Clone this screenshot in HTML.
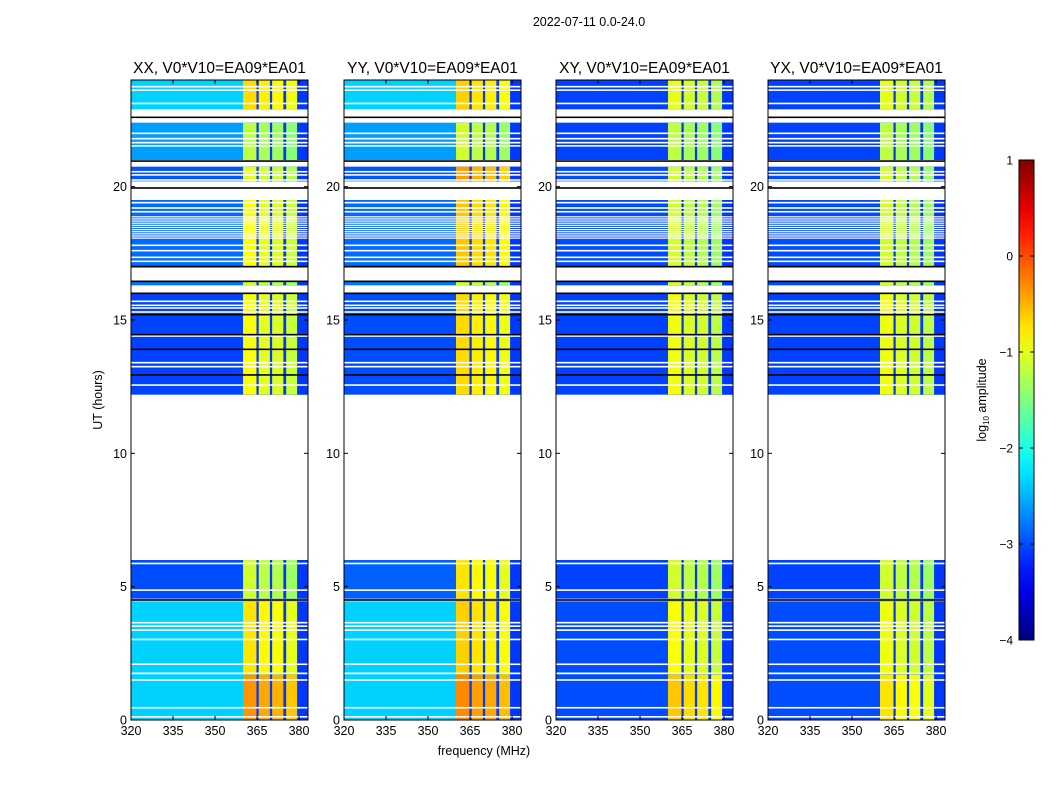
<!DOCTYPE html>
<html><head><meta charset="utf-8"><style>
body{margin:0;background:#fff;}
svg{display:block;font-family:"Liberation Sans",sans-serif;}
</style></head><body>
<svg id="chart" width="1050" height="800">
<rect width="1050" height="800" fill="#fff"/>
<text x="589" y="26" font-size="12.5" text-anchor="middle">2022-07-11 0.0-24.0</text>
</svg>
<script>
// ---- data ----
const panelTitles = ["XX, V0*V10=EA09*EA01","YY, V0*V10=EA09*EA01","XY, V0*V10=EA09*EA01","YX, V0*V10=EA09*EA01"];
const blockStart = [0, 1.7, 4.55, 12.2, 16.3, 17.0, 20.2, 21.0, 22.9];
const blockEnd   = [1.7, 4.45, 6.0, 16.0, 16.45, 19.5, 20.75, 22.4, 24.0];
const bgXX = [-2.35,-2.35,-3.0,-3.05,-2.8,-2.85,-2.95,-2.6,-2.35];
const bgYY = [-2.35,-2.35,-2.9,-3.0,-2.8,-2.85,-2.95,-2.6,-2.35];
const bgXY = [-3.0,-3.0,-3.05,-3.05,-3.0,-3.0,-3.0,-3.05,-3.05];
const bgYX = [-3.0,-3.0,-3.05,-3.05,-3.0,-3.0,-3.0,-3.05,-3.05];
const rfiXX = [-0.45,-0.85,-1.2,-1.0,-1.2,-1.0,-1.1,-1.3,-0.8];
const rfiYY = [-0.4,-0.75,-0.85,-0.8,-1.2,-0.7,-0.5,-1.2,-0.75];
const rfiXY = [-0.7,-1.0,-1.2,-1.05,-1.2,-1.2,-1.2,-1.3,-1.1];
const rfiYX = [-0.85,-1.05,-1.2,-1.05,-1.2,-1.2,-1.2,-1.3,-1.1];
const chanLo = [360.0, 365.6, 370.4, 375.4];
const chanHi = [364.8, 369.6, 374.4, 379.3];
const chanGain = [0.1, 0.0, -0.05, -0.15];
const whiteLines = [0.12,0.46,1.5,1.75,2.09,3.02,3.37,3.52,3.65,4.87,5.87,12.56,13.25,13.4,14.4,15.3,15.45,15.55,15.7,17.2,17.35,17.6,17.8,19.06,19.2,19.4,20.12,20.25,20.44,20.56,21.53,21.65,21.8,22.0,23.12,23.62,23.75];
const blackLines = [4.5,12.94,13.9,14.45,15.2,16.0,16.45,17.0,19.95,20.96,22.6];
const hatchStart = 18.07, hatchEnd = 18.9;
const xTicks = [320,335,350,365,380];
const yTicks = [0,5,10,15,20];
const cbTicks = [1,0,-1,-2,-3,-4];
const bgs = [bgXX,bgYY,bgXY,bgYX], rfis = [rfiXX,rfiYY,rfiXY,rfiYX];

// ---- helpers ----
const NS = "http://www.w3.org/2000/svg";
const svg = document.getElementById("chart");
function mk(tag, attrs, parent){const e=document.createElementNS(NS,tag);for(const k in attrs)e.setAttribute(k,attrs[k]);(parent||svg).appendChild(e);return e;}
function jet(v){let t=Math.max(0,Math.min(1,(v+4)/5));
  const f=(x)=>Math.max(0,Math.min(1,x));
  const r=f(1.5-Math.abs(4*t-3)), g=f(1.5-Math.abs(4*t-2)), b=f(1.5-Math.abs(4*t-1));
  return `rgb(${Math.round(r*255)},${Math.round(g*255)},${Math.round(b*255)})`;}
const panelX = [131,344,556,768], PW = 177, PT = 80, PB = 720;
const F0 = 320, F1 = 383.2;
const yS = h => PB - h*(PB-PT)/24;

panelTitles.forEach((title, p) => {
  const x0 = panelX[p];
  const xS = f => x0 + (f-F0)*PW/(F1-F0);
  const g = mk("g", {});
  
  
  blockStart.forEach((t0, i) => {
    const t1 = blockEnd[i], y1 = yS(t1), h = yS(t0)-y1;
    const bg = mk("rect", {x:x0, y:y1, width:PW, height:h, fill:jet(bgs[p][i])}, g);
    
    
    const sep = mk("rect", {x:xS(chanLo[0]), y:y1, width:x0+PW-xS(chanLo[0]), height:h, fill:jet(-3.1)}, g);
    
    
    chanLo.forEach((lo, c) => {
      const r = mk("rect", {x:xS(lo), y:y1, width:xS(chanHi[c])-xS(lo), height:h, fill:jet(rfis[p][i]+chanGain[c])}, g);
      
      
    });
  });
  for (let h = hatchStart; h < hatchEnd; h += 0.08) {
    const r = mk("rect", {x:x0, y:yS(h)-0.6, width:PW, height:1.2, fill:"#fff"}, g);
    
    
  }
  whiteLines.forEach(h => {
    const r = mk("rect", {x:x0, y:yS(h)-0.8, width:PW, height:1.6, fill:"#fff"}, g);
    
    
  });
  blackLines.forEach(h => {
    const r = mk("rect", {x:x0, y:yS(h)-0.8, width:PW, height:1.6, fill:"#000"}, g);
    
    
  });
  const fr = mk("rect", {x:x0, y:PT, width:PW, height:PB-PT, fill:"none", stroke:"#000", "stroke-width":1}, g);
  
  
  xTicks.forEach(f => {
    const x = xS(f);
    mk("line", {x1:x, x2:x, y1:PB, y2:PB-4, stroke:"#000"}, g);
    mk("line", {x1:x, x2:x, y1:PT, y2:PT+4, stroke:"#000"}, g);
    const t = mk("text", {x:x, y:PB+15, "font-size":12.5, "text-anchor":"middle"}, g);
    t.textContent = f;
    
    
  });
  yTicks.forEach(v => {
    const y = yS(v);
    mk("line", {x1:x0, x2:x0+4, y1:y, y2:y, stroke:"#000"}, g);
    mk("line", {x1:x0+PW, x2:x0+PW-4, y1:y, y2:y, stroke:"#000"}, g);
    const t = mk("text", {x:x0-4, y:y+4.5, "font-size":12.5, "text-anchor":"end"}, g);
    t.textContent = v;
    
    
  });
  const tt = mk("text", {x:x0+PW/2, y:73, "font-size":15.5, "text-anchor":"middle"}, g);
  tt.textContent = title;
  
  
});

const xl = mk("text", {x:484, y:755, "font-size":12.5, "text-anchor":"middle"});
xl.textContent = "frequency (MHz)";


const yl = mk("text", {x:0, y:0, "font-size":12.5, "text-anchor":"middle", transform:"translate(102,400) rotate(-90)"});
yl.textContent = "UT (hours)";



// colorbar
const defs = mk("defs", {});
const grad = mk("linearGradient", {id:"jetg", x1:0, y1:1, x2:0, y2:0}, defs);
for (let i = 0; i <= 20; i++) { mk("stop", {offset:i/20, "stop-color":jet(-4+5*i/20)}, grad); }
const cbTop = 160, cbBot = 640, cbX = 1019, cbW = 15;
const cb = mk("rect", {x:cbX, y:cbTop, width:cbW, height:cbBot-cbTop, fill:"url(#jetg)", stroke:"#000", "stroke-width":1});


cbTicks.forEach(v => {
  const y = cbBot - (v+4)/5*(cbBot-cbTop);
  mk("line", {x1:cbX, x2:cbX+4, y1:y, y2:y, stroke:"#000"});
  mk("line", {x1:cbX+cbW, x2:cbX+cbW-4, y1:y, y2:y, stroke:"#000"});
  const t = mk("text", {x:1013, y:y+4.5, "font-size":12, "text-anchor":"end"});
  t.textContent = v < 0 ? "\u2212" + (-v) : v;
  
  
});
const cl = mk("text", {x:0, y:0, "font-size":12.5, "text-anchor":"middle", transform:"translate(986,400) rotate(-90)"});
cl.innerHTML = 'log<tspan font-size="8" dy="3">10</tspan><tspan dy="-3"> amplitude</tspan>';


</script>
</body></html>
